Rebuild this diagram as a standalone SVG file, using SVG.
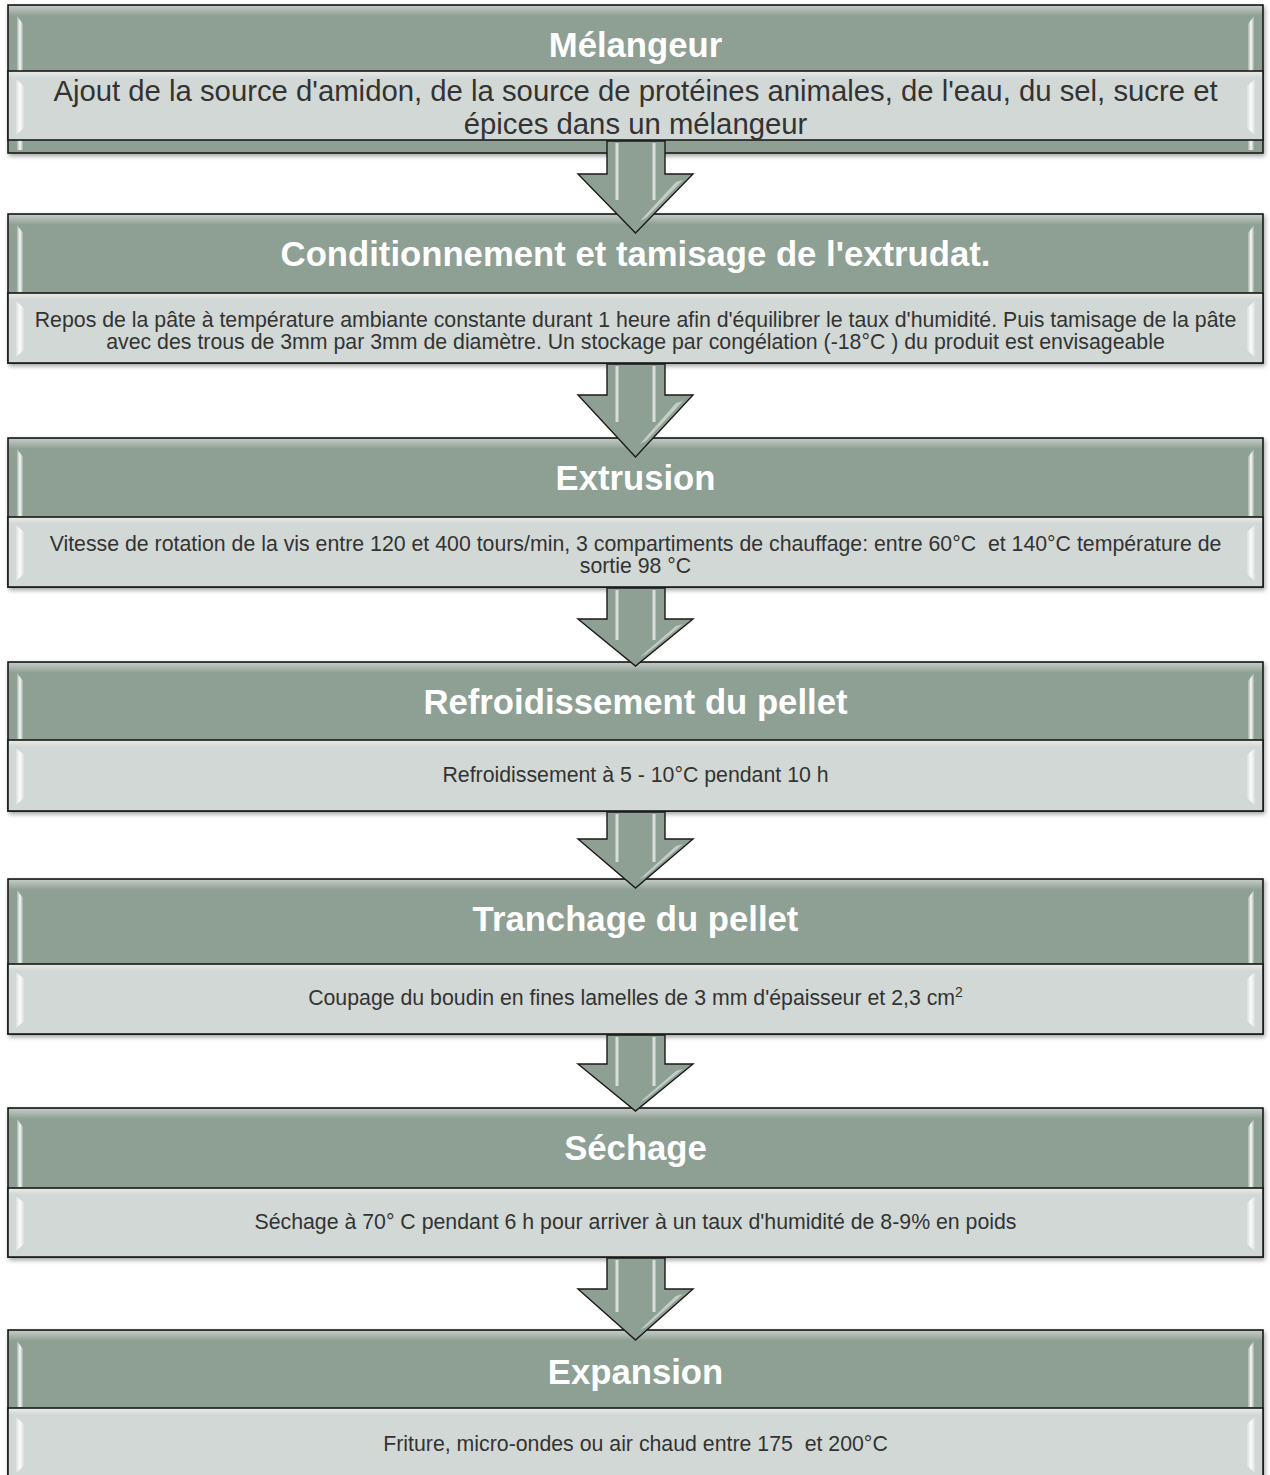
<svg xmlns="http://www.w3.org/2000/svg" width="1270" height="1475" viewBox="0 0 1270 1475">
  <defs>
    <style>
      .hdr { fill: #8e9f94; stroke: #1a1a1a; stroke-width: 1.6; }
      .body { fill: #d2d8d5; stroke: #1a1a1a; stroke-width: 1.6; }
      .title { font-family: "Liberation Sans", Arial, sans-serif; font-weight: bold; font-size: 34.7px; fill: #ffffff; text-anchor: middle; }
      .desc { font-family: "Liberation Sans", Arial, sans-serif; font-size: 21.3px; fill: #333333; text-anchor: middle; }
      .desc-lg { font-family: "Liberation Sans", Arial, sans-serif; font-size: 29.3px; fill: #333333; text-anchor: middle; }
      .arrow { fill: #8e9f94; stroke: #1a1a1a; stroke-width: 1.4; stroke-linejoin: miter; }
      .shine { fill: url(#sideShine); }
      .topShine { fill: url(#topShine); }
      .stripe { stroke: #eef3f0; stroke-width: 3; opacity: 0.75; }
      .headShine { fill: #e8eeea; opacity: 0.6; }
    </style>
    <linearGradient id="sideShine" x1="0" y1="0" x2="1" y2="0">
      <stop offset="0" stop-color="#ffffff" stop-opacity="0.2"/>
      <stop offset="0.5" stop-color="#ffffff" stop-opacity="0.95"/>
      <stop offset="1" stop-color="#ffffff" stop-opacity="0.15"/>
    </linearGradient>
    <linearGradient id="topShine" x1="0" y1="0" x2="0" y2="1">
      <stop offset="0" stop-color="#ffffff" stop-opacity="0.45"/>
      <stop offset="1" stop-color="#ffffff" stop-opacity="0"/>
    </linearGradient>
    <filter id="shadow" x="-2%" y="-10%" width="104%" height="130%">
      <feDropShadow dx="1.5" dy="2.5" stdDeviation="2" flood-color="#000000" flood-opacity="0.35"/>
    </filter>
  </defs>

  <!-- Stage 1 -->
  <g id="melangeur">
    <rect class="hdr" x="8" y="5" width="1255" height="148" filter="url(#shadow)"/>
    <rect class="topShine" x="9" y="6" width="1253" height="10"/>
    <path class="shine" d="M17,16 L23,24 L23,150 L17,150 Z"/>
    <path class="shine" d="M1254,16 L1248,24 L1248,150 L1254,150 Z"/>
    <rect class="body" x="8" y="71" width="1255" height="69"/>
    <rect class="topShine" x="9" y="72" width="1253" height="6"/>
    <path class="shine" d="M16,79 L24,86 L24,128 L16,135 Z"/>
    <path class="shine" d="M1255,79 L1247,86 L1247,128 L1255,135 Z"/>
    <text class="title" x="635.5" y="57">Mélangeur</text>
    <text class="desc-lg" x="635.5" y="101">Ajout de la source d'amidon, de la source de protéines animales, de l'eau, du sel, sucre et</text>
    <text class="desc-lg" x="635.5" y="134">épices dans un mélangeur</text>
  </g>

  <!-- Stage 2 -->
  <g id="conditionnement">
    <rect class="hdr" x="8" y="214" width="1255" height="149" filter="url(#shadow)"/>
    <rect class="topShine" x="9" y="215" width="1253" height="10"/>
    <path class="shine" d="M17,225 L23,233 L23,292 L17,292 Z"/>
    <path class="shine" d="M1254,225 L1248,233 L1248,292 L1254,292 Z"/>
    <rect class="body" x="8" y="293" width="1255" height="70"/>
    <rect class="topShine" x="9" y="294" width="1253" height="6"/>
    <path class="shine" d="M16,301 L24,308 L24,350 L16,357 Z"/>
    <path class="shine" d="M1255,301 L1247,308 L1247,350 L1255,357 Z"/>
    <text class="title" x="635.5" y="266">Conditionnement et tamisage de l'extrudat.</text>
    <text class="desc" x="635.5" y="327">Repos de la pâte à température ambiante constante durant 1 heure afin d'équilibrer le taux d'humidité. Puis tamisage de la pâte</text>
    <text class="desc" x="635.5" y="349">avec des trous de 3mm par 3mm de diamètre. Un stockage par congélation (-18°C ) du produit est envisageable</text>
  </g>

  <!-- Stage 3 -->
  <g id="extrusion">
    <rect class="hdr" x="8" y="438" width="1255" height="149" filter="url(#shadow)"/>
    <rect class="topShine" x="9" y="439" width="1253" height="10"/>
    <path class="shine" d="M17,449 L23,457 L23,516 L17,516 Z"/>
    <path class="shine" d="M1254,449 L1248,457 L1248,516 L1254,516 Z"/>
    <rect class="body" x="8" y="517" width="1255" height="70"/>
    <rect class="topShine" x="9" y="518" width="1253" height="6"/>
    <path class="shine" d="M16,525 L24,532 L24,574 L16,581 Z"/>
    <path class="shine" d="M1255,525 L1247,532 L1247,574 L1255,581 Z"/>
    <text class="title" x="635.5" y="490">Extrusion</text>
    <text class="desc" x="635.5" y="551" xml:space="preserve">Vitesse de rotation de la vis entre 120 et 400 tours/min, 3 compartiments de chauffage: entre 60°C  et 140°C température de</text>
    <text class="desc" x="635.5" y="573">sortie 98 °C</text>
  </g>

  <!-- Stage 4 -->
  <g id="refroidissement">
    <rect class="hdr" x="8" y="662" width="1255" height="149" filter="url(#shadow)"/>
    <rect class="topShine" x="9" y="663" width="1253" height="10"/>
    <path class="shine" d="M17,673 L23,681 L23,739 L17,739 Z"/>
    <path class="shine" d="M1254,673 L1248,681 L1248,739 L1254,739 Z"/>
    <rect class="body" x="8" y="740" width="1255" height="71"/>
    <rect class="topShine" x="9" y="741" width="1253" height="6"/>
    <path class="shine" d="M16,748 L24,755 L24,798 L16,805 Z"/>
    <path class="shine" d="M1255,748 L1247,755 L1247,798 L1255,805 Z"/>
    <text class="title" x="635.5" y="714">Refroidissement du pellet</text>
    <text class="desc" x="635.5" y="782">Refroidissement à 5 - 10°C pendant 10 h</text>
  </g>

  <!-- Stage 5 -->
  <g id="tranchage">
    <rect class="hdr" x="8" y="879" width="1255" height="155" filter="url(#shadow)"/>
    <rect class="topShine" x="9" y="880" width="1253" height="10"/>
    <path class="shine" d="M17,890 L23,898 L23,963 L17,963 Z"/>
    <path class="shine" d="M1254,890 L1248,898 L1248,963 L1254,963 Z"/>
    <rect class="body" x="8" y="964" width="1255" height="70"/>
    <rect class="topShine" x="9" y="965" width="1253" height="6"/>
    <path class="shine" d="M16,972 L24,979 L24,1021 L16,1028 Z"/>
    <path class="shine" d="M1255,972 L1247,979 L1247,1021 L1255,1028 Z"/>
    <text class="title" x="635.5" y="931">Tranchage du pellet</text>
    <text class="desc" x="635.5" y="1005">Coupage du boudin en fines lamelles de 3 mm d'épaisseur et 2,3 cm<tspan font-size="14" dy="-8">2</tspan></text>
  </g>

  <!-- Stage 6 -->
  <g id="sechage">
    <rect class="hdr" x="8" y="1108" width="1255" height="149" filter="url(#shadow)"/>
    <rect class="topShine" x="9" y="1109" width="1253" height="10"/>
    <path class="shine" d="M17,1119 L23,1127 L23,1187 L17,1187 Z"/>
    <path class="shine" d="M1254,1119 L1248,1127 L1248,1187 L1254,1187 Z"/>
    <rect class="body" x="8" y="1188" width="1255" height="69"/>
    <rect class="topShine" x="9" y="1189" width="1253" height="6"/>
    <path class="shine" d="M16,1196 L24,1203 L24,1244 L16,1251 Z"/>
    <path class="shine" d="M1255,1196 L1247,1203 L1247,1244 L1255,1251 Z"/>
    <text class="title" x="635.5" y="1160">Séchage</text>
    <text class="desc" x="635.5" y="1229">Séchage à 70° C pendant 6 h pour arriver à un taux d'humidité de 8-9% en poids</text>
  </g>

  <!-- Stage 7 -->
  <g id="expansion">
    <rect class="hdr" x="8" y="1330" width="1255" height="152" filter="url(#shadow)"/>
    <rect class="topShine" x="9" y="1331" width="1253" height="10"/>
    <path class="shine" d="M17,1341 L23,1349 L23,1407 L17,1407 Z"/>
    <path class="shine" d="M1254,1341 L1248,1349 L1248,1407 L1254,1407 Z"/>
    <rect class="body" x="8" y="1408" width="1255" height="74"/>
    <rect class="topShine" x="9" y="1409" width="1253" height="6"/>
    <path class="shine" d="M16,1417 L24,1424 L24,1466 L16,1473 Z"/>
    <path class="shine" d="M1255,1417 L1247,1424 L1247,1466 L1255,1473 Z"/>
    <text class="title" x="635.5" y="1384">Expansion</text>
    <text class="desc" x="635.5" y="1451" xml:space="preserve">Friture, micro-ondes ou air chaud entre 175  et 200°C</text>
  </g>

  <!-- Connectors: block arrows between stages -->
  <g id="connectors">
    <g>
      <path class="arrow" d="M607,141 L665,141 L665,174 L693,174 L635.5,233 L578,174 L607,174 Z"/>
      <line class="stripe" x1="617" y1="143" x2="617" y2="200"/>
      <line class="stripe" x1="654" y1="143" x2="654" y2="200"/>
      <path class="headShine" d="M676,182 L683,180 L646,218 L640,221 Z"/>
    </g>
    <g>
      <path class="arrow" d="M607,364 L665,364 L665,395 L693,395 L635.5,457 L578,395 L607,395 Z"/>
      <line class="stripe" x1="617" y1="366" x2="617" y2="422"/>
      <line class="stripe" x1="654" y1="366" x2="654" y2="422"/>
      <path class="headShine" d="M676,403 L683,401 L646,441 L640,444 Z"/>
    </g>
    <g>
      <path class="arrow" d="M607,588 L665,588 L665,619 L693,619 L635.5,666 L578,619 L607,619 Z"/>
      <line class="stripe" x1="617" y1="590" x2="617" y2="640"/>
      <line class="stripe" x1="654" y1="590" x2="654" y2="640"/>
      <path class="headShine" d="M676,626 L683,624 L646,654 L640,657 Z"/>
    </g>
    <g>
      <path class="arrow" d="M607,812 L665,812 L665,839 L693,839 L635.5,888 L578,839 L607,839 Z"/>
      <line class="stripe" x1="617" y1="814" x2="617" y2="862"/>
      <line class="stripe" x1="654" y1="814" x2="654" y2="862"/>
      <path class="headShine" d="M676,846 L683,844 L646,876 L640,879 Z"/>
    </g>
    <g>
      <path class="arrow" d="M607,1035 L665,1035 L665,1064 L693,1064 L635.5,1111 L578,1064 L607,1064 Z"/>
      <line class="stripe" x1="617" y1="1037" x2="617" y2="1086"/>
      <line class="stripe" x1="654" y1="1037" x2="654" y2="1086"/>
      <path class="headShine" d="M676,1071 L683,1069 L646,1099 L640,1102 Z"/>
    </g>
    <g>
      <path class="arrow" d="M607,1258 L665,1258 L665,1289 L693,1289 L635.5,1340 L578,1289 L607,1289 Z"/>
      <line class="stripe" x1="617" y1="1260" x2="617" y2="1312"/>
      <line class="stripe" x1="654" y1="1260" x2="654" y2="1312"/>
      <path class="headShine" d="M676,1296 L683,1294 L646,1327 L640,1330 Z"/>
    </g>
  </g>
</svg>
